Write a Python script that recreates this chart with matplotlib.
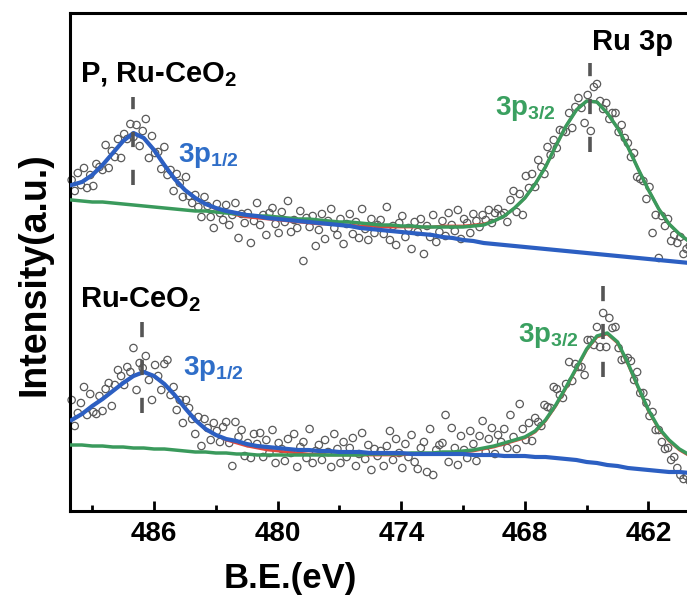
import matplotlib
matplotlib.use("Agg")
import matplotlib.pyplot as plt

# Ru 3p XPS, two samples stacked (intensity in arbitrary units)
curve_be = [490.0, 489.5, 489.0, 488.5, 488.0, 487.5, 487.0, 486.5, 486.0, 485.5,
            485.0, 484.5, 484.0, 483.5, 483.0, 482.5, 482.0, 481.5, 481.0, 480.5,
            480.0, 479.5, 479.0, 478.5, 478.0, 477.5, 477.0, 476.5, 476.0, 475.5,
            475.0, 474.5, 474.0, 473.5, 473.0, 472.5, 472.0, 471.5, 471.0, 470.5,
            470.0, 469.5, 469.0, 468.5, 468.0, 467.5, 467.0, 466.5, 466.0, 465.5,
            465.0, 464.5, 464.0, 463.5, 463.0, 462.5, 462.0, 461.5, 461.0, 460.5, 460.0]

# P, Ru-CeO2 (upper trace)
top_blue = [326, 329, 336, 346, 358, 370, 378, 373, 361, 346,
            332, 321, 313, 307, 303, 300, 298, 296, 295, 293,
            292, 291, 290, 289, 288, 287, 286, 285, 283, 282,
            281, 280, 279, 278, 277, 276, 274, 273, 271, 270,
            268, 267, 266, 265, 264, 263, 262, 261, 260, 259,
            258, 257, 256, 255, 254, 253, 252, 251, 250, 249, 248]
top_green = [311, 310, 309, 309, 308, 307, 306, 305, 304, 303,
             302, 301, 300, 300, 299, 298, 297, 296, 295, 295,
             294, 293, 292, 292, 291, 290, 289, 289, 288, 287,
             286, 286, 285, 285, 284, 284, 284, 284, 284, 285,
             286, 290, 295, 303, 313, 327, 344, 365, 385, 401,
             410, 409, 398, 383, 364, 342, 321, 302, 287, 277, 269]
top_red = [326, 329, 336, 346, 358, 370, 378, 373, 361, 346,
           332, 321, 313, 307, 302, 299, 296, 294, 293, 292,
           291, 290, 289, 288, 287, 287, 286, 286, 285, 285,
           284, 284, 284, 284, 284, 284, 285, 285, 285, 286,
           287, 290, 295, 303, 313, 327, 344, 365, 385, 401,
           410, 409, 398, 383, 364, 342, 321, 302, 287, 277, 269]

# Ru-CeO2 (lower trace)
bot_blue = [91, 97, 105, 112, 120, 128, 135, 139, 135, 127,
            116, 103, 91, 82, 76, 72, 70, 67, 65, 64,
            63, 62, 61, 61, 60, 60, 59, 59, 59, 58,
            58, 58, 58, 57, 57, 57, 57, 57, 57, 56,
            56, 56, 55, 55, 55, 54, 54, 53, 52, 51,
            49, 48, 46, 45, 43, 42, 41, 40, 39, 39, 38]
bot_green = [66, 66, 65, 65, 64, 64, 63, 63, 62, 62,
             61, 60, 59, 59, 58, 58, 57, 57, 56, 56,
             56, 56, 56, 56, 56, 56, 56, 56, 56, 57,
             57, 57, 57, 58, 58, 58, 59, 59, 60, 61,
             63, 65, 68, 71, 74, 80, 91, 106, 124, 143,
             162, 175, 178, 169, 148, 124, 101, 83, 71, 62, 56]
bot_red = [91, 97, 105, 112, 120, 128, 135, 139, 135, 127,
           116, 103, 91, 82, 76, 71, 68, 65, 63, 61,
           60, 59, 58, 57, 57, 56, 56, 56, 56, 56,
           56, 56, 56, 57, 57, 57, 58, 58, 59, 60,
           62, 64, 67, 70, 73, 79, 90, 105, 123, 142,
           161, 174, 177, 168, 147, 123, 100, 82, 70, 61, 55]

# raw scan points
scan_be = [490.00, 489.85, 489.70, 489.55, 489.40, 489.25, 489.10, 488.95, 488.80, 488.65,
           488.50, 488.35, 488.20, 488.05, 487.90, 487.75, 487.60, 487.45, 487.30, 487.15,
           487.00, 486.85, 486.70, 486.55, 486.40, 486.25, 486.10, 485.95, 485.80, 485.65,
           485.50, 485.35, 485.20, 485.05, 484.90, 484.75, 484.60, 484.45, 484.30, 484.15,
           484.00, 483.85, 483.70, 483.55, 483.40, 483.25, 483.10, 482.95, 482.80, 482.65,
           482.50, 482.35, 482.20, 482.05, 481.90, 481.75, 481.60, 481.45, 481.30, 481.15,
           481.00, 480.85, 480.70, 480.55, 480.40, 480.25, 480.10, 479.95, 479.80, 479.65,
           479.50, 479.35, 479.20, 479.05, 478.90, 478.75, 478.60, 478.45, 478.30, 478.15,
           478.00, 477.85, 477.70, 477.55, 477.40, 477.25, 477.10, 476.95, 476.80, 476.65,
           476.50, 476.35, 476.20, 476.05, 475.90, 475.75, 475.60, 475.45, 475.30, 475.15,
           475.00, 474.85, 474.70, 474.55, 474.40, 474.25, 474.10, 473.95, 473.80, 473.65,
           473.50, 473.35, 473.20, 473.05, 472.90, 472.75, 472.60, 472.45, 472.30, 472.15,
           472.00, 471.85, 471.70, 471.55, 471.40, 471.25, 471.10, 470.95, 470.80, 470.65,
           470.50, 470.35, 470.20, 470.05, 469.90, 469.75, 469.60, 469.45, 469.30, 469.15,
           469.00, 468.85, 468.70, 468.55, 468.40, 468.25, 468.10, 467.95, 467.80, 467.65,
           467.50, 467.35, 467.20, 467.05, 466.90, 466.75, 466.60, 466.45, 466.30, 466.15,
           466.00, 465.85, 465.70, 465.55, 465.40, 465.25, 465.10, 464.95, 464.80, 464.65,
           464.50, 464.35, 464.20, 464.05, 463.90, 463.75, 463.60, 463.45, 463.30, 463.15,
           463.00, 462.85, 462.70, 462.55, 462.40, 462.25, 462.10, 461.95, 461.80, 461.65,
           461.50, 461.35, 461.20, 461.05, 460.90, 460.75, 460.60, 460.45, 460.30, 460.15,
           460.00]
top_counts = [331, 320, 338, 326, 343, 323, 336, 325, 347, 344, 341, 366, 343, 360, 354, 372, 353, 377, 372, 387,
              374, 386, 365, 380, 392, 353, 375, 358, 359, 342, 364, 336, 341, 320, 337, 328, 314, 334, 315, 308,
              316, 304, 294, 314, 305, 294, 283, 307, 298, 291, 306, 286, 296, 308, 273, 297, 288, 298, 268, 290,
              308, 286, 296, 276, 298, 303, 287, 278, 299, 289, 310, 279, 291, 283, 300, 250, 293, 284, 295, 265,
              281, 297, 272, 290, 302, 283, 276, 292, 267, 287, 297, 277, 289, 273, 302, 282, 271, 292, 278, 286,
              291, 277, 304, 271, 285, 266, 288, 295, 274, 283, 262, 289, 279, 292, 257, 285, 274, 296, 269, 279,
              290, 275, 298, 286, 280, 301, 272, 292, 288, 278, 297, 290, 284, 296, 291, 301, 288, 298, 302, 296,
              298, 289, 311, 320, 299, 317, 296, 335, 323, 337, 324, 351, 344, 337, 364, 356, 371, 363, 381, 380,
              379, 398, 383, 404, 413, 403, 388, 416, 380, 424, 427, 410, 402, 408, 392, 398, 398, 379, 386, 373,
              368, 354, 358, 334, 332, 330, 312, 324, 278, 296, 253, 295, 285, 292, 270, 276, 268, 274, 257, 262,
              265]
bot_counts = [111, 85, 98, 108, 124, 96, 117, 99, 97, 115, 100, 122, 128, 105, 126, 141, 135, 126, 144, 139,
              163, 121, 148, 143, 155, 131, 111, 146, 135, 121, 147, 151, 116, 124, 101, 111, 88, 111, 103, 92,
              77, 94, 65, 92, 83, 71, 88, 80, 69, 84, 89, 68, 45, 89, 74, 81, 55, 68, 53, 77,
              67, 78, 54, 71, 58, 81, 48, 68, 62, 50, 72, 58, 77, 44, 64, 69, 53, 82, 48, 60,
              66, 51, 71, 59, 44, 77, 62, 48, 69, 54, 63, 73, 45, 57, 78, 52, 66, 41, 62, 55,
              60, 45, 65, 80, 51, 72, 58, 43, 67, 54, 76, 49, 42, 63, 69, 39, 82, 36, 61, 66,
              68, 96, 49, 83, 63, 46, 75, 61, 53, 80, 67, 50, 75, 90, 59, 72, 83, 57, 76, 69,
              82, 63, 96, 74, 62, 107, 82, 71, 88, 70, 93, 89, 85, 106, 104, 103, 124, 122, 116, 113,
              127, 149, 130, 147, 144, 144, 136, 171, 171, 166, 184, 164, 198, 164, 193, 183, 184, 163, 151, 152,
              153, 150, 131, 139, 118, 118, 108, 95, 99, 81, 81, 69, 62, 63, 51, 54, 43, 36, 32, 35,
              30]

# peak positions (eV) for the dashed markers
top_peaks = [487.0, 464.83]
bot_peaks = [486.6, 464.2]
xticks_major = [486, 480, 474, 468, 462]
xticks_minor = [489, 483, 477, 471, 465]

BLUE = "#2c5fc2"
GREEN = "#3a9a5c"
RED = "#e0473d"
LBL_BLUE = "#2f6ec8"
LBL_GREEN = "#3aa060"

plt.rcParams["font.family"] = ["Liberation Sans", "DejaVu Sans"]
plt.rcParams["font.weight"] = "bold"
plt.rcParams["mathtext.fontset"] = "custom"
plt.rcParams["mathtext.rm"] = "Liberation Sans:bold"
plt.rcParams["mathtext.it"] = "Liberation Sans:bold"
plt.rcParams["mathtext.bf"] = "Liberation Sans:bold"

fig = plt.figure(figsize=(6.87, 6.05), dpi=100)
ax = fig.add_axes([70 / 687, 94 / 605, 617 / 687, 498 / 605])

for counts, blue, green, red in [(top_counts, top_blue, top_green, top_red),
                                 (bot_counts, bot_blue, bot_green, bot_red)]:
    ax.scatter(scan_be, counts, s=28, facecolors="none", edgecolors="#5a5a5a",
               linewidths=0.9, zorder=1, clip_on=False)
    ax.plot(curve_be, red, color=RED, lw=2.0, zorder=2)
    ax.plot(curve_be, green, color=GREEN, lw=2.5, zorder=3)
    ax.plot(curve_be, blue, color=BLUE, lw=3.0, zorder=4)

# dashed peak markers
dash = (0, (4.2, 6.3))
ax.plot([top_peaks[0]] * 2, [326, 414], color="#555555", lw=2.6, ls=dash, zorder=5)
ax.plot([top_peaks[1]] * 2, [359, 448], color="#555555", lw=2.6, ls=dash, zorder=5)
ax.plot([bot_peaks[0]] * 2, [98, 189], color="#555555", lw=2.6, ls=dash, zorder=5)
ax.plot([bot_peaks[1]] * 2, [134, 226], color="#555555", lw=2.6, ls=dash, zorder=5)

# labels
ax.text(489.6, 429, "P, Ru-CeO$_2$", fontsize=21, va="baseline", ha="left", color="black")
ax.text(464.74, 461, "Ru 3p", fontsize=21, va="baseline", ha="left", color="black")
ax.text(489.6, 204, "Ru-CeO$_2$", fontsize=21, va="baseline", ha="left", color="black")
ax.text(484.83, 349, "3p$_{1/2}$", fontsize=20, va="baseline", ha="left", color=LBL_BLUE)
ax.text(469.45, 396, "3p$_{3/2}$", fontsize=20, va="baseline", ha="left", color=LBL_GREEN)
ax.text(484.6, 136, "3p$_{1/2}$", fontsize=20, va="baseline", ha="left", color=LBL_BLUE)
ax.text(468.33, 169, "3p$_{3/2}$", fontsize=20, va="baseline", ha="left", color=LBL_GREEN)

ax.set_xlim(490.08, 460.13)
ax.set_ylim(0, 498)
ax.set_xticks(xticks_major)
ax.set_xticks(xticks_minor, minor=True)
ax.set_xticklabels([str(t) for t in xticks_major],
                   family=["Liberation Sans Narrow", "Liberation Sans"], fontsize=20, fontweight="bold")
ax.set_yticks([])
ax.tick_params(axis="x", which="major", direction="in", length=7, width=2, pad=7)
ax.tick_params(axis="x", which="minor", direction="in", length=4, width=2)

for side in ("left", "bottom", "top"):
    ax.spines[side].set_linewidth(2.2)
ax.spines["right"].set_visible(False)

ax.set_xlabel("B.E.(eV)", fontsize=25, fontweight="bold", va="top")
ax.xaxis.set_label_coords(0.357, -0.102)
ax.set_ylabel("Intensity(a.u.)", fontsize=27, fontweight="bold", va="center")
ax.yaxis.set_label_coords(-0.058, 0.476)

fig.savefig("out.png", dpi=100)
